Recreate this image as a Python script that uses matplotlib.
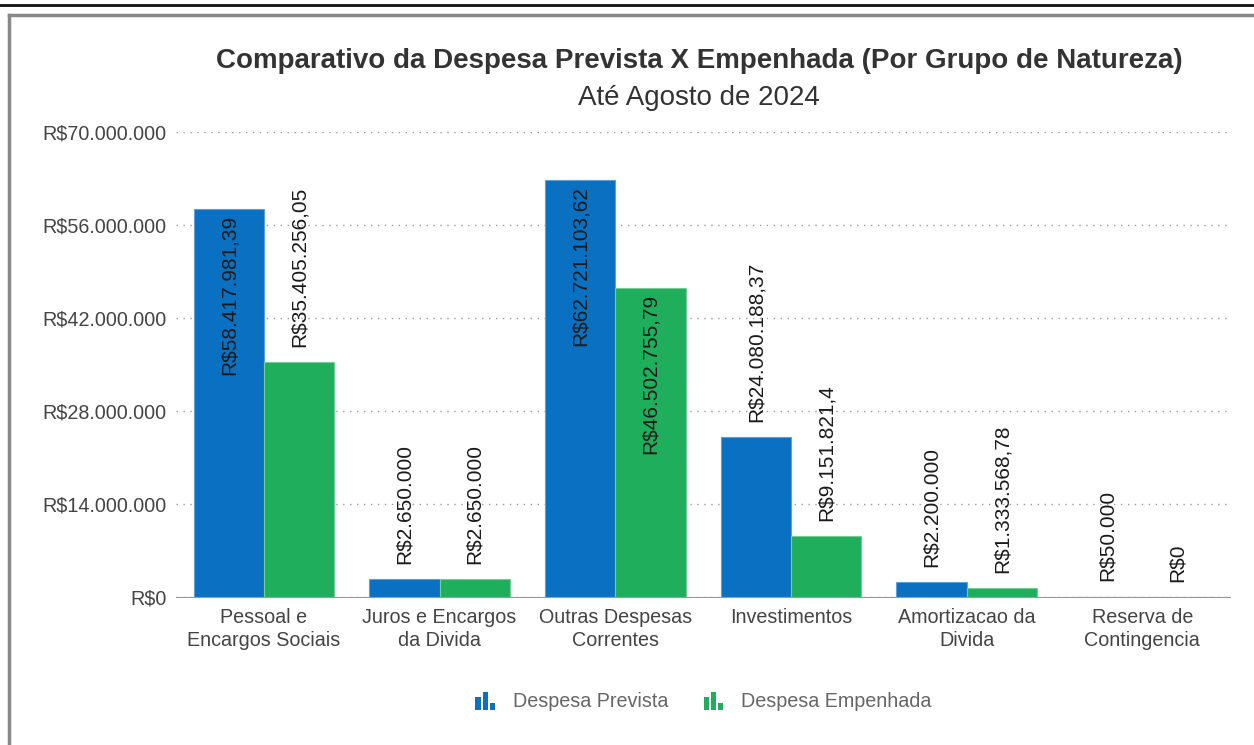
import numpy as np
import matplotlib
matplotlib.use('Agg')
import matplotlib.pyplot as plt
from matplotlib.lines import Line2D
from matplotlib.patches import Rectangle
from matplotlib.legend_handler import HandlerBase
from matplotlib.ticker import FuncFormatter

plt.rcParams['font.family'] = ['Liberation Sans', 'DejaVu Sans']

# data
categories = ['Pessoal e\nEncargos Sociais', 'Juros e Encargos\nda Divida', 'Outras Despesas\nCorrentes',
              'Investimentos', 'Amortizacao da\nDivida', 'Reserva de\nContingencia']
prevista = [58417981.39, 2650000.00, 62721103.62, 24080188.37, 2200000.00, 50000.00]
empenhada = [35405256.05, 2650000.00, 46502755.79, 9151821.40, 1333568.78, 0.00]
series_names = ['Despesa Prevista', 'Despesa Empenhada']
y_ticks = [0, 14000000, 28000000, 42000000, 56000000, 70000000]

BLUE = '#0a70c2'
GREEN = '#1faf5c'
BLUE_EDGE = '#5c9fd9'
GREEN_EDGE = '#72cf93'
LABEL_ROOM = 27e6  # space a rotated value label needs above the bar


def brl(v, decimals=True):
    # brazilian money format: R$1.234.567,89
    if decimals and round(v % 1, 2) != 0:
        s = f'{v:,.2f}'
        ints, dec = s.split('.')
        dec = dec.rstrip('0')
        return 'R$' + ints.replace(',', '.') + ',' + dec
    return 'R$' + f'{v:,.0f}'.replace(',', '.')


class BarIconHandler(HandlerBase):
    def __init__(self, color):
        super().__init__()
        self.color = color

    def create_artists(self, legend, orig_handle, xdescent, ydescent, width, height, fontsize, trans):
        w = width / 3.6
        hs = [0.75, 1.05, 0.42]
        arts = []
        for i, h in enumerate(hs):
            r = Rectangle((i * w * 1.3, -ydescent - 1), w, height * h,
                          facecolor=self.color, edgecolor='none', transform=trans)
            arts.append(r)
        return arts


fig = plt.figure(figsize=(12.54, 7.45), dpi=100)
ax = fig.add_axes([0.1404, 0.1987, 0.8406, 0.6241])

x = np.arange(len(categories))
bw = 0.4
b1 = ax.bar(x - bw / 2, prevista, bw, color=BLUE, edgecolor=BLUE_EDGE, linewidth=0.8,
            label=series_names[0])
b2 = ax.bar(x + bw / 2, empenhada, bw, color=GREEN, edgecolor=GREEN_EDGE, linewidth=0.8,
            label=series_names[1])

for bars, vals in ((b1, prevista), (b2, empenhada)):
    for rect, v in zip(bars, vals):
        cx = rect.get_x() + rect.get_width() / 2
        if v + LABEL_ROOM > y_ticks[-1]:
            ax.annotate(brl(v), (cx, v), xytext=(0, -4), textcoords='offset points',
                        rotation=90, ha='center', va='top', fontsize=15, color='#1a1a1a')
        else:
            ax.annotate(brl(v), (cx, v), xytext=(0, 11), textcoords='offset points',
                        rotation=90, ha='center', va='bottom', fontsize=15, color='#1a1a1a')

ax.set_xlim(-0.5, len(categories) - 0.5)
ax.set_ylim(0, y_ticks[-1])
ax.set_yticks(y_ticks)
ax.yaxis.set_major_formatter(FuncFormatter(lambda v, p: brl(v, False)))
ax.set_xticks(x)
ax.set_xticklabels(categories, linespacing=1.25)
ax.tick_params(axis='both', length=0, labelsize=14.2, labelcolor='#444444')
ax.tick_params(axis='x', pad=8)
ax.tick_params(axis='y', pad=7)
for s in ['top', 'right', 'left']:
    ax.spines[s].set_visible(False)
ax.spines['bottom'].set_color('#999999')
ax.grid(axis='y', linestyle=(0, (1, 4)), color='#999999', linewidth=1)
ax.set_axisbelow(True)

fig.text(0.5575, 0.918, 'Comparativo da Despesa Prevista X Empenhada (Por Grupo de Natureza)',
         ha='center', va='center', fontsize=20, fontweight='bold', color='#333333')
fig.text(0.5575, 0.869, 'Até Agosto de 2024', ha='center', va='center', fontsize=20, color='#333333')

h1 = Rectangle((0, 0), 1, 1, color=BLUE)
h2 = Rectangle((0, 0), 1, 1, color=GREEN)
fig.legend([h1, h2], series_names, loc='center', bbox_to_anchor=(0.561, 0.059), ncol=2,
           frameon=False, fontsize=14.2, labelcolor='#666666', handlelength=1.0, handleheight=1.0,
           columnspacing=1.8, handletextpad=0.9,
           handler_map={h1: BarIconHandler(BLUE), h2: BarIconHandler(GREEN)})

# page frame around the widget
fig.add_artist(Line2D([0, 1], [1 - 5 / 745, 1 - 5 / 745], color='#111111', linewidth=2))
fig.add_artist(Line2D([9 / 1254, 1], [1 - 15 / 745, 1 - 15 / 745], color='#888888', linewidth=2.5))
fig.add_artist(Line2D([9 / 1254, 9 / 1254], [1 - 15 / 745, 0], color='#888888', linewidth=2.5))

fig.savefig('out.png', dpi=100)
